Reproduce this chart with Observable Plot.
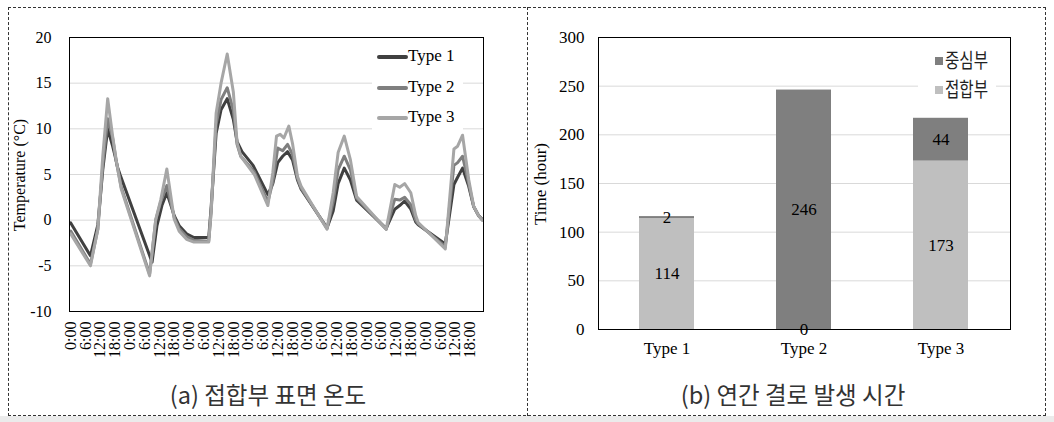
<!DOCTYPE html>
<html><head><meta charset="utf-8">
<script src="https://cdn.jsdelivr.net/npm/d3@7"></script>
<script src="https://cdn.jsdelivr.net/npm/@observablehq/plot@0.6"></script>
<style>
html,body{margin:0;padding:0;background:#fff;}
body{width:1054px;height:422px;position:relative;overflow:hidden;font-family:"Liberation Serif",serif;}
.abs{position:absolute;}
.box{position:absolute;border:1px dashed #333;box-sizing:border-box;}
.cap{position:absolute;font-family:"Noto Sans CJK KR","Noto Sans",sans-serif;font-size:24px;color:#333;white-space:nowrap;transform:translateX(-50%) scaleX(0.98);top:376px;}
.leg{position:absolute;background:#fff;}
.lrow{position:absolute;font-family:"Liberation Serif",serif;font-size:17px;color:#000;white-space:nowrap;}
.kr{position:absolute;font-family:"Noto Sans CJK KR",sans-serif;font-size:20px;color:#222;white-space:nowrap;transform-origin:0 50%;transform:scaleX(0.78);}
.ytitle{position:absolute;font-family:"Liberation Serif",serif;color:#000;white-space:nowrap;transform:translate(-50%,-50%) rotate(-90deg);}
</style></head><body>
<div class="abs" style="left:0;top:416px;width:1054px;height:6px;background:#ebebeb"></div>
<div class="box" style="left:8px;top:7px;width:1038px;height:409px"></div>
<div class="abs" style="left:527px;top:7px;width:0;height:409px;border-left:1px dashed #333"></div>
<div id="left" class="abs" style="left:0;top:0"></div>
<div id="right" class="abs" style="left:530px;top:0"></div>
<div class="ytitle" style="left:20px;top:175px;font-size:16px">Temperature (°C)</div>
<div class="ytitle" style="left:541px;top:184px;font-size:17px">Time (hour)</div>
<div class="cap" style="left:268px">(a) 접합부 표면 온도</div>
<div class="cap" style="left:793px">(b) 연간 결로 발생 시간</div>
<div id="legL" class="leg" style="left:372px;top:42px;width:91px;height:88px"></div>
<div id="legR" class="leg" style="left:918px;top:48px;width:78px;height:50px"></div>
<script>
// ---- (a) surface temperature at joint ----
const seriesNames = ["Type 1", "Type 2", "Type 3"];
const seriesColors = ["#404040", "#7f7f7f", "#a6a6a6"];
const hourLabels = ["0:00", "6:00", "12:00", "18:00"];
const tempTicks = [-10, -5, 0, 5, 10, 15, 20];

const type1Hours = [0,8,11,13,15,17,18,19,20,33,35,37,39,42,44,47,50,56,57,59,61,63.5,66,67.5,69.5,74,80,82,84,86,88,90,92,93.5,104,106.5,108.5,111,113.5,116,128,131.5,133.5,135.5,138,140,141,152,155.5,157,159,161.5,163.5,165.5,167];
const type1Temps = [-0.3,-3.9,-0.5,5.5,10.0,8.1,7.0,5.8,5.0,-4.6,-0.6,1.6,3.0,0.5,-0.6,-1.5,-1.9,-1.9,1.5,9.5,12.1,13.3,11.0,8.6,7.5,6.0,2.8,4.0,6.3,7.0,7.5,6.6,4.4,3.4,-0.85,1.0,4.0,5.7,4.4,2.2,-0.9,1.2,1.6,2.1,1.2,-0.2,-0.5,-2.6,3.9,4.7,5.7,3.7,1.5,0.5,0.1];

const type2Hours = [0,8,11,13,15,17,18.5,20.5,32,34.5,36.5,39,42,44,47,50,56,57,59,61,63.5,66,67.5,69,74.5,80,82,84,86,88,90,92,93.5,104,106.5,108.5,111,113.5,116,128,131.5,133.5,135.5,138,140,141,152,155.5,157,159,161.5,163.5,165.5,167];
const type2Temps = [-1.2,-4.8,-1.0,6.0,11.1,9.0,6.4,3.6,-5.9,0.0,2.0,3.8,0.3,-0.9,-1.8,-2.2,-2.3,1.0,10.5,13.2,14.5,12.0,8.3,7.0,5.3,2.0,4.2,7.9,7.6,8.3,7.2,4.6,3.5,-0.9,2.0,5.5,7.0,5.5,2.4,-1.0,2.3,2.2,2.5,1.7,0.0,-0.4,-2.9,6.0,6.3,7.0,4.0,1.5,0.5,0.0];

const type3Hours = [0,8,11,13,15,17,18.5,20.5,32,34.5,36.5,39,42,44,47,50,56,57,59,61,63.5,66,67.5,69,74.5,80,82,83.5,85,86.5,88.5,90,92,93.5,104,106.5,108.5,111,113.5,116,128,131.5,133.5,135.5,138,140,141,152,155.5,157,159,161.5,163.5,165.5,167];
const type3Temps = [-1.5,-5.0,-1.0,7.0,13.3,9.2,6.5,3.4,-6.1,0.1,2.2,5.6,0.1,-1.2,-2.1,-2.4,-2.4,1.0,11.7,15.0,18.2,14.0,8.5,7.0,5.0,1.6,5.2,9.2,9.4,9.0,10.3,8.4,4.8,3.7,-1.0,3.0,7.4,9.2,6.6,2.6,-1.0,3.9,3.6,4.0,3.0,0.5,-0.25,-3.15,7.8,8.1,9.3,4.45,1.55,0.5,0.0];

// ---- (b) annual condensation hours ----
const barTypes = ["Type 1", "Type 2", "Type 3"];
const partNames = ["접합부", "중심부"];
const partColors = ["#bfbfbf", "#7f7f7f"];
const jointHours = [114, 0, 173];
const centerHours = [2, 246, 44];
const timeTicks = [0, 50, 100, 150, 200, 250, 300];

const rows = [];
[[type1Hours, type1Temps], [type2Hours, type2Temps], [type3Hours, type3Temps]].forEach(([hs, ts], i) =>
  hs.forEach((h, j) => rows.push({hour: h, temp: ts[j], type: seriesNames[i]})));

const tickHours = d3.range(0, 168, 6);

const left = Plot.plot({
  width: 528, height: 370,
  marginLeft: 69, marginRight: 45, marginTop: 37, marginBottom: 59,
  style: {fontFamily: "'Liberation Serif', serif", fontSize: "16px", color: "#000", background: "transparent"},
  x: {domain: [-0.5, 167.5], ticks: tickHours, tickFormat: h => hourLabels[(h / 6) % 4], tickRotate: -90, tickSize: 0, tickPadding: 10, label: null},
  y: {domain: [-10, 20], ticks: tempTicks, tickFormat: d => String(d), tickSize: 0, tickPadding: 18, label: null},
  color: {domain: seriesNames, range: seriesColors},
  marks: [
    Plot.gridY(tempTicks, {stroke: "#d9d9d9", strokeOpacity: 1}),
    Plot.line(rows, {x: "hour", y: "temp", stroke: "type", z: "type", strokeWidth: 3, strokeLinejoin: "round"}),
    Plot.frame({stroke: "#000"})
  ]
});
document.getElementById("left").appendChild(left);

const bars = [];
barTypes.forEach((t, i) => {
  bars.push({type: t, part: partNames[0], hours: jointHours[i]});
  bars.push({type: t, part: partNames[1], hours: centerHours[i]});
});

const right = Plot.plot({
  width: 516, height: 370,
  marginLeft: 68, marginRight: 36, marginTop: 37, marginBottom: 41,
  style: {fontFamily: "'Liberation Serif', serif", fontSize: "17px", color: "#000", background: "transparent"},
  x: {domain: barTypes, paddingInner: 0.595, paddingOuter: 0.2975, tickSize: 0, tickPadding: 12, label: null},
  y: {domain: [0, 300], ticks: timeTicks, tickFormat: d => String(d), tickSize: 0, tickPadding: 14, label: null},
  color: {domain: partNames, range: partColors},
  marks: [
    Plot.gridY(timeTicks, {stroke: "#d9d9d9", strokeOpacity: 1}),
    Plot.barY(bars, {x: "type", y: "hours", fill: "part"}),
    Plot.text(bars, Plot.stackY({x: "type", y: "hours", text: d => String(d.hours), fill: "#000", fontSize: 17})),
    Plot.frame({stroke: "#000"})
  ]
});
document.getElementById("right").appendChild(right);

// legends
const legL = document.getElementById("legL");
seriesNames.forEach((n, i) => {
  const ln = document.createElement("div");
  ln.className = "abs";
  ln.style.cssText = `left:5px;top:${13 + i * 30.5}px;width:31px;height:4px;background:${seriesColors[i]};border-radius:2px`;
  legL.appendChild(ln);
  const tx = document.createElement("div");
  tx.className = "lrow";
  tx.style.cssText = `left:36px;top:${4 + i * 30.5}px`;
  tx.textContent = n;
  legL.appendChild(tx);
});
const legR = document.getElementById("legR");
[1, 0].forEach((k, i) => {
  const sq = document.createElement("div");
  sq.className = "abs";
  sq.style.cssText = `left:17px;top:${9 + i * 29}px;width:8px;height:8px;background:${partColors[k]}`;
  legR.appendChild(sq);
  const tx = document.createElement("div");
  tx.className = "kr";
  tx.style.cssText += `left:27px;top:${-3 + i * 29}px`;
  tx.textContent = partNames[k];
  legR.appendChild(tx);
});
</script>
</body></html>
